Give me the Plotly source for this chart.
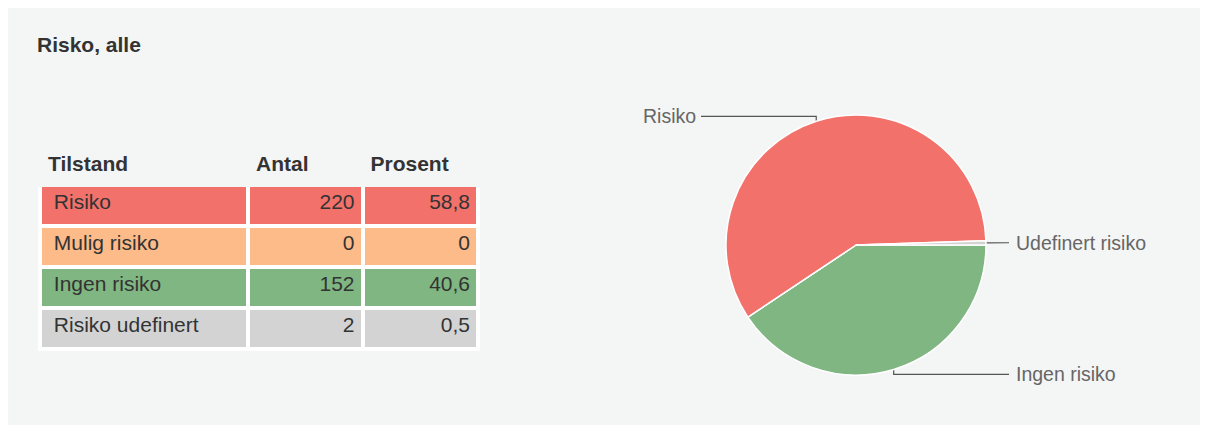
import math
import plotly.graph_objects as go

# ---------------- data ----------------
title_text = "Risko, alle"
header_labels = ["Tilstand", "Antal", "Prosent"]
categories = ["Risiko", "Mulig risiko", "Ingen risiko", "Risiko udefinert"]
antal = [220, 0, 152, 2]
prosent = [58.8, 0, 40.6, 0.5]
pie_names = ["Risiko", "Mulig risiko", "Ingen risiko", "Udefinert risiko"]
colors = ["#F2716B", "#FCBB88", "#80B682", "#D3D3D3"]
pie_order = [2, 1, 0, 3]  # drawing order of slices, clockwise from 3 o'clock

# ---------------- layout constants (figure pixel coords) ----------------
W, H = 1200, 425
BG = "#F4F5F5"
TXT = "#333333"
LBL = "#666666"
FONT = "Liberation Sans, Arial, sans-serif"
cx, cy, R = 848, 237, 130
START = 90  # degrees clockwise from 12 o'clock
PAD = "\u00a0"


def fmt(v):
    return ("%g" % v).replace(".", ",")


fig = go.Figure()

# table
fig.add_trace(go.Table(
    domain=dict(x=[32 / W, 470 / W], y=[(H - 345) / H, (H - 136) / H]),
    columnwidth=[208, 114.5, 115.5],
    header=dict(
        values=["<b>%s</b>" % h for h in header_labels],
        align=["left", "left", "left"],
        fill_color=BG,
        line=dict(color=BG, width=4),
        font=dict(family=FONT, size=21, color=TXT),
        height=41,
    ),
    cells=dict(
        values=[[PAD + c for c in categories], [str(a) for a in antal], [fmt(p) for p in prosent]],
        align=["left", "right", "right"],
        fill_color=[colors, colors, colors],
        line=dict(color="#FFFFFF", width=4),
        font=dict(family=FONT, size=21, color=TXT),
        height=41,
    ),
))

# pie
pv = [antal[i] for i in pie_order]
fig.add_trace(go.Pie(
    labels=[pie_names[i] for i in pie_order],
    values=pv,
    marker=dict(colors=[colors[i] for i in pie_order], line=dict(color="#FFFFFF", width=1.5)),
    sort=False,
    direction="clockwise",
    rotation=START,
    textinfo="none",
    hoverinfo="label+value+percent",
    domain=dict(x=[(cx - R) / W, (cx + R) / W], y=[(H - cy - R) / H, (H - cy + R) / H]),
    showlegend=False,
))

# leader lines and labels computed from slice angles
total = sum(pv)
acc = 0.0
annotations = [dict(
    x=27, y=36, xref="x", yref="y", text="<b>%s</b>" % title_text, showarrow=False,
    xanchor="left", yanchor="middle", font=dict(family=FONT, size=21, color=TXT),
)]
for i in pie_order:
    v = antal[i]
    if v <= 0:
        continue
    mid = START + 360.0 * (acc + v / 2.0) / total
    acc += v
    th = math.radians(mid)
    px = cx + R * math.sin(th)
    py = cy - R * math.cos(th)
    ly = cy - 1.04 * R * math.cos(th)
    right = math.sin(th) >= 0
    lx = cx + 153 if right else cx - 155
    fig.add_trace(go.Scatter(
        x=[px, px, lx], y=[py, ly, ly], mode="lines",
        line=dict(color="#555555", width=1.2), hoverinfo="skip", showlegend=False,
        xaxis="x", yaxis="y",
    ))
    annotations.append(dict(
        x=lx + (5 if right else -3), y=ly, xref="x", yref="y", text=pie_names[i],
        showarrow=False, xanchor="left" if right else "right", yanchor="middle",
        font=dict(family=FONT, size=19.5, color=LBL),
    ))

fig.update_layout(
    width=W, height=H,
    margin=dict(l=0, r=0, t=0, b=0),
    paper_bgcolor=BG,
    plot_bgcolor="rgba(0,0,0,0)",
    xaxis=dict(range=[0, W], visible=False, fixedrange=True, domain=[0, 1]),
    yaxis=dict(range=[H, 0], visible=False, fixedrange=True, domain=[0, 1]),
    annotations=annotations,
    showlegend=False,
)

fig.write_html("out.html")
